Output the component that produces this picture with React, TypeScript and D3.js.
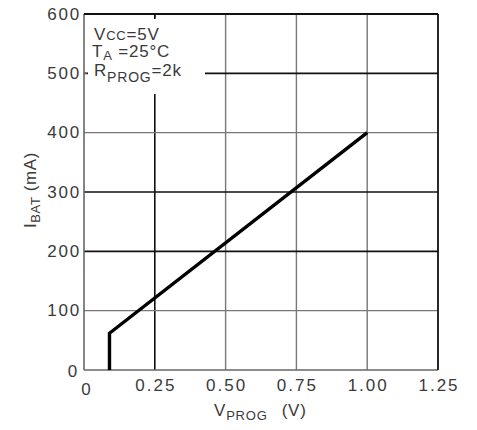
import React from "react";
import * as d3 from "d3";

const xTicks = [0, 0.25, 0.5, 0.75, 1.0, 1.25];
const xTickLabels = ["0", "0.25", "0.50", "0.75", "1.00", "1.25"];
const yTicks = [0, 100, 200, 300, 400, 500, 600];
const yTickLabels = ["0", "100", "200", "300", "400", "500", "600"];
const darkX = [0.25];
const darkY = [200, 300, 500];
const vProg = [0.09, 0.09, 1.0];
const iBat = [0, 62, 400];

export default function App() {
  const x = d3.scaleLinear().domain([0, 1.25]).range([84, 438]);
  const y = d3.scaleLinear().domain([0, 600]).range([370, 14]);
  const pts: [number, number][] = vProg.map((v, i) => [v, iBat[i]]);
  const line = d3.line<[number, number]>().x(d => x(d[0])).y(d => y(d[1]));
  const font = "'Liberation Sans', Arial, sans-serif";
  const tc = "#3a3a3a";
  return (
    <svg width={477} height={430} style={{ position: "absolute", left: 0, top: 0, background: "#fff" }} fontFamily={font}>
      <rect x={0} y={0} width={477} height={430} fill="#fff" />
      {/* grid */}
      {xTicks.slice(1, -1).map(t => (
        <line key={"vx" + t} x1={x(t)} x2={x(t)} y1={y(0)} y2={y(600)}
          stroke={darkX.includes(t) ? "#111" : "#777"} strokeWidth={darkX.includes(t) ? 1.6 : 1.4} />
      ))}
      {yTicks.slice(1, -1).map(t => (
        <line key={"hy" + t} x1={x(0)} x2={x(1.25)} y1={y(t)} y2={y(t)}
          stroke={darkY.includes(t) ? "#111" : "#777"} strokeWidth={darkY.includes(t) ? 1.6 : 1.4} />
      ))}
      {/* annotation background */}
      <rect x={88} y={19} width={117} height={75} fill="#fff" />
      {/* frame */}
      <line x1={x(0)} x2={x(0)} y1={y(0)} y2={y(600)} stroke="#666" strokeWidth={1.6} />
      <line x1={x(0)} x2={x(1.25)} y1={y(0)} y2={y(0)} stroke="#666" strokeWidth={1.6} />
      <line x1={x(0)} x2={x(1.25)} y1={y(600)} y2={y(600)} stroke="#111" strokeWidth={1.8} />
      <line x1={x(1.25)} x2={x(1.25)} y1={y(0)} y2={y(600)} stroke="#111" strokeWidth={1.8} />
      {/* small ticks */}
      <line x1={x(0.25)} x2={x(0.25)} y1={y(600)} y2={y(600) + 4} stroke="#111" strokeWidth={1.4} />
      <line x1={x(0)} x2={x(0) + 3} y1={y(500)} y2={y(500)} stroke="#666" strokeWidth={1.4} />
      {/* data */}
      <path d={line(pts) || ""} fill="none" stroke="#000" strokeWidth={3.4} strokeLinejoin="miter" />
      {/* y tick labels */}
      {yTicks.map((t, i) => (
        <text key={"yl" + t} x={t === 0 ? 79 : 81} y={y(t) + (t === 0 ? 1 : 0)} textAnchor="end" dominantBaseline="central"
          fontSize={17} letterSpacing={1.8} fill={tc}>{yTickLabels[i]}</text>
      ))}
      {/* x tick labels */}
      {xTicks.map((t, i) => (
        <text key={"xl" + t} x={x(t) + (t === 0 ? 3 : 1)} y={t === 0 ? 395 : 391} textAnchor="middle"
          fontSize={17} letterSpacing={2} fill={tc}>{xTickLabels[i]}</text>
      ))}
      {/* annotation */}
      <text x={94} y={40} fontSize={17} letterSpacing={0.8} fill={tc}>
        V<tspan fontSize={13}>CC</tspan>=5V
      </text>
      <text x={92} y={57} fontSize={17} letterSpacing={0.8} fill={tc}>
        T<tspan fontSize={13} dy={3}>A</tspan><tspan dy={-3}> =25°C</tspan>
      </text>
      <text x={94} y={76} fontSize={17} letterSpacing={0.8} fill={tc}>
        R<tspan fontSize={14} dy={6}>PROG</tspan><tspan dy={-6}>=2k</tspan>
      </text>
      {/* axis titles */}
      <text x={214} y={416} fontSize={17} letterSpacing={0.8} fill={tc}>
        V<tspan fontSize={13} dy={4}>PROG</tspan><tspan dy={-4} dx={14}>(V)</tspan>
      </text>
      <text transform="translate(36,190) rotate(-90)" textAnchor="middle" fontSize={17} letterSpacing={0.6} fill={tc}>
        I<tspan fontSize={13} dy={4}>BAT</tspan><tspan dy={-4}> (mA)</tspan>
      </text>
    </svg>
  );
}
